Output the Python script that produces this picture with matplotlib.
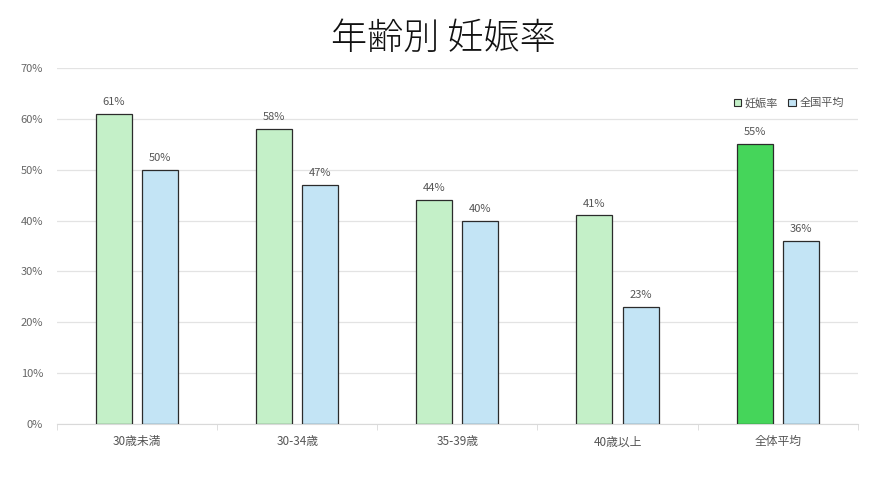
import matplotlib
matplotlib.use("Agg")
import matplotlib.pyplot as plt
import numpy as np
from matplotlib.patches import Patch

plt.rcParams['font.family'] = ['Noto Sans CJK JP', 'DejaVu Sans']

categories = ["30歳未満", "30-34歳", "35-39歳", "40歳以上", "全体平均"]
rate = [61, 58, 44, 41, 55]
national = [50, 47, 40, 23, 36]
series_names = ["妊娠率", "全国平均"]
title = "年齢別 妊娠率"

c_green = "#C4F0C8"
c_green_dark = "#45D55A"
c_blue = "#C3E4F5"
edge = "#2b2b2b"

fig = plt.figure(figsize=(8.87, 4.99), dpi=100)
ax = fig.add_axes([0.0643, 0.150, 0.9027, 0.714])

x = np.arange(len(categories))
w = 0.225
off = 0.144
gcolors = [c_green] * (len(categories) - 1) + [c_green_dark]
b1 = ax.bar(x - off, rate, w, color=gcolors, edgecolor=edge, linewidth=0.9, zorder=3)
b2 = ax.bar(x + off, national, w, color=c_blue, edgecolor=edge, linewidth=0.9, zorder=3)

for bars, vals in ((b1, rate), (b2, national)):
    for r, v in zip(bars, vals):
        ax.annotate(f"{v}%", (r.get_x() + r.get_width() / 2, v), xytext=(0, 5),
                    textcoords="offset points", ha="center", va="bottom",
                    fontsize=8, color="#555555")

ax.set_xlim(-0.5, len(categories) - 0.5)
ax.set_ylim(0, 70)
ax.set_yticks(np.arange(0, 71, 10))
ax.set_yticklabels([f"{v}%" for v in range(0, 71, 10)], fontsize=8, color="#666666")
ax.yaxis.grid(True, color="#e3e3e3", linewidth=0.9, zorder=0)
ax.tick_params(axis='y', length=0, pad=10)

ax.set_xticks(x)
ax.set_xticklabels(categories, fontsize=8.5, color="#555555")
ax.set_xticks(np.arange(-0.5, len(categories), 1), minor=True)
ax.tick_params(axis='x', which='major', length=0, pad=8)
ax.tick_params(axis='x', which='minor', length=4, color="#d9d9d9")

for s in ("top", "right", "left"):
    ax.spines[s].set_visible(False)
ax.spines["bottom"].set_color("#d9d9d9")

handles = [Patch(facecolor=c_green, edgecolor=edge, linewidth=0.8),
           Patch(facecolor=c_blue, edgecolor=edge, linewidth=0.8)]
ax.legend(handles, series_names, loc="upper right", bbox_to_anchor=(0.995, 0.945),
          ncol=2, frameon=False, fontsize=8, handlelength=0.7, handleheight=0.7,
          handletextpad=0.3, columnspacing=0.9, labelcolor="#555555")

fig.text(0.5, 0.922, title, ha="center", va="center", fontsize=26, color="#111111",
         fontweight="light")

fig.savefig("out.png", dpi=100)
